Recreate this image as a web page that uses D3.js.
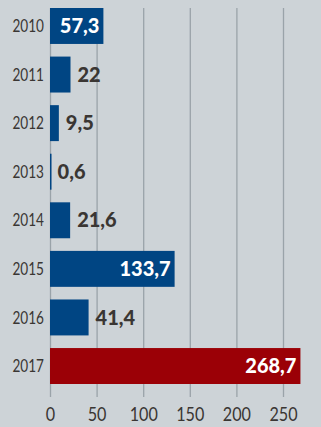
<!DOCTYPE html>
<html><head><meta charset="utf-8">
<script src="https://cdn.jsdelivr.net/npm/d3@7"></script>
<style>
html,body{margin:0;padding:0;background:#cdd3d7;}
svg{display:block;}
</style></head>
<body>
<script>
const years = ["2010","2011","2012","2013","2014","2015","2016","2017"];
const values = [57.3, 22, 9.5, 0.6, 21.6, 133.7, 41.4, 268.7];
const labels = ["57,3","22","9,5","0,6","21,6","133,7","41,4","268,7"];
const insideLabel = [true,false,false,false,false,true,false,true];
const highlight = [false,false,false,false,false,false,false,true];
const ticks = [0,50,100,150,200,250];

const W = 321, H = 427;
const svg = d3.select("body").append("svg").attr("width", W).attr("height", H);
svg.append("rect").attr("width", W).attr("height", H).attr("fill", "#cdd3d7");

const x = d3.scaleLinear().domain([0, 250]).range([50, 283]);
const y = d3.scaleBand().domain(years).range([8, 384]).paddingInner(0.26).paddingOuter(0);

const lightFont = "Lato, 'Liberation Sans', sans-serif";
const boldFont = "Lato, 'DejaVu Sans Condensed', sans-serif";

// gridlines + ticks
const xAxis = d3.axisBottom(x).tickValues(ticks).tickSize(397 - 8).tickSizeOuter(0).tickPadding(0);
const gx = svg.append("g").attr("transform", "translate(0,8)").call(xAxis);
gx.select(".domain").remove();
gx.selectAll(".tick line").attr("stroke", "#9aa3a9").attr("stroke-width", 1.3);
gx.selectAll(".tick text")
  .attr("y", null).attr("dy", null)
  .attr("fill", "#3a3633")
  .attr("font-family", lightFont)
  .attr("font-size", 19.5)
  .attr("transform", "translate(0,413) scale(0.83,1)");

const data = years.map((yr, i) => ({yr, v: values[i], lab: labels[i], inside: insideLabel[i], hi: highlight[i]}));

svg.selectAll("rect.bar").data(data).enter().append("rect")
  .attr("class", "bar")
  .attr("x", x(0))
  .attr("y", d => y(d.yr))
  .attr("width", d => Math.max(1.5, x(d.v) - x(0)))
  .attr("height", y.bandwidth())
  .attr("fill", d => d.hi ? "#9b0006" : "#004583");

// year labels
svg.selectAll("text.yr").data(data).enter().append("text")
  .attr("class", "yr")
  .attr("transform", d => `translate(44,${y(d.yr) + y.bandwidth() / 2}) scale(0.8,1)`)
  .attr("dy", "0.36em")
  .attr("text-anchor", "end")
  .attr("fill", "#3a3633")
  .attr("font-family", lightFont)
  .attr("font-size", 17)
  .text(d => d.yr);

// value labels
svg.selectAll("text.val").data(data).enter().append("text")
  .attr("class", "val")
  .attr("x", d => d.inside ? x(d.v) - 4 : x(d.v) + 7)
  .attr("y", d => y(d.yr) + y.bandwidth() / 2)
  .attr("dy", "0.36em")
  .attr("text-anchor", d => d.inside ? "end" : "start")
  .attr("fill", d => d.inside ? "#ffffff" : "#3a3633")
  .attr("font-family", boldFont)
  .attr("font-weight", 900)
  .attr("font-size", 20)
  .text(d => d.lab);
</script>
</body></html>
